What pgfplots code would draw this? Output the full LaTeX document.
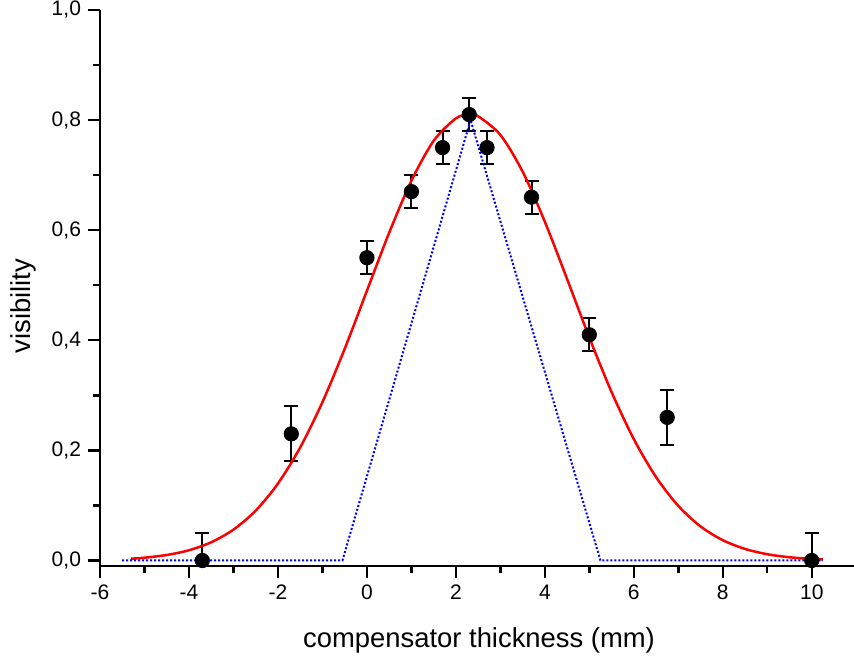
\documentclass[border=0pt]{standalone}
\usepackage{fontspec}
\setmainfont{Liberation Sans}
\usepackage{pgfplots}
\pgfplotsset{compat=1.18}

\begin{document}
\begin{tikzpicture}
\begin{axis}[
  name=ax,
  scale only axis,
  width=377pt,
  height=278pt,
  xmin=-6, xmax=10.95,
  ymin=-0.01, ymax=1.0,
  axis x line=bottom,
  axis y line=left,
  axis line style={-, line width=1.2pt},
  every tick/.style={black, line width=1.2pt},
  tick align=outside,
  major tick length=6pt,
  minor tick length=3.5pt,
  xtick={-6,-4,...,10},
  ytick={0,0.2,0.4,0.6,0.8,1.0},
  minor x tick num=1,
  minor y tick num=1,
  /pgf/number format/assume math mode=true,
  yticklabel style={/pgf/number format/.cd, fixed, fixed zerofill, precision=1, use comma},
  tick label style={font=\fontsize{10.5}{12}\selectfont},
  label style={font=\fontsize{13.7}{16}\selectfont},
  xlabel={compensator thickness (mm)},
  ylabel={visibility},
  xlabel style={at={(axis description cs:0.5027,0)}, anchor=base, yshift=-40.5pt},
  ylabel style={at={(axis description cs:-0.102,0.4676)}, anchor=center, rotate=0},
]
% measured points
\addplot[only marks, mark=*, mark size=3.6pt, black,
  error bars/.cd, y dir=both, y explicit,
  error bar style={line width=1pt, black},
  error mark options={rotate=90, mark size=3.5pt, line width=1pt, black}]
  coordinates {
    (-3.7,0.00) +- (0,0.05)
    (-1.7,0.23) +- (0,0.05)
    (0.0,0.55) +- (0,0.03)
    (1.0,0.67) +- (0,0.03)
    (1.7,0.75) +- (0,0.03)
    (2.3,0.81) +- (0,0.03)
    (2.7,0.75) +- (0,0.03)
    (3.7,0.66) +- (0,0.03)
    (5.0,0.41) +- (0,0.03)
    (6.75,0.26) +- (0,0.05)
    (10.0,0.00) +- (0,0.05)
  };
% fitted curve
\addplot[red, line width=1.25pt, smooth, no marks]
  coordinates {
    (-5.3,0.0033) (-5.0,0.0051) (-4.5,0.0100) (-4.0,0.0186) (-3.5,0.0331)
    (-3.0,0.0561) (-2.5,0.0906) (-2.0,0.1397) (-1.5,0.2053) (-1.0,0.2876)
    (-0.5,0.3844) (0.0,0.4899) (0.5,0.5953) (1.0,0.6898) (1.5,0.7622)
    (2.0,0.8031) (2.3,0.8100) (2.5,0.8069) (3.0,0.7731) (3.5,0.7064)
    (4.0,0.6154) (4.5,0.5113) (5.0,0.4050) (5.5,0.3060) (6.0,0.2205)
    (6.5,0.1515) (7.0,0.0992) (7.5,0.0619) (8.0,0.0369) (8.5,0.0210)
    (9.0,0.0114) (9.5,0.0059) (10.0,0.0029) (10.25,0.0020)
  };
% triangle model
\addplot[blue, line width=1pt, dash pattern=on 1pt off 1pt, no marks]
  coordinates {(-5.5,0) (-0.55,0) (2.33,0.80) (5.25,0) (10.25,0)};
\end{axis}
\pgfresetboundingbox
\path[use as bounding box] ([xshift=-50pt,yshift=-45.5pt]ax.south west) rectangle ([yshift=5pt]ax.north east);
\end{tikzpicture}
\end{document}
